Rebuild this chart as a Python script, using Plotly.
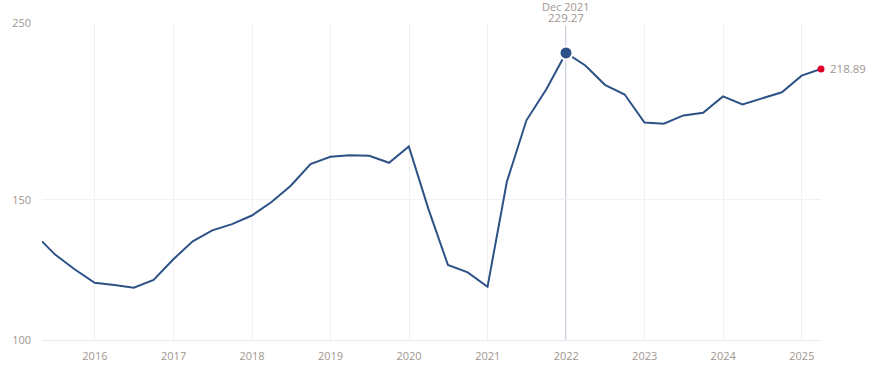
import math
import plotly.graph_objects as go

dates = [
    "2015-04-30", "2015-06-30", "2015-09-30", "2015-12-31",
    "2016-03-31", "2016-06-30", "2016-09-30", "2016-12-31",
    "2017-03-31", "2017-06-30", "2017-09-30", "2017-12-31",
    "2018-03-31", "2018-06-30", "2018-09-30", "2018-12-31",
    "2019-03-31", "2019-06-30", "2019-09-30", "2019-12-31",
    "2020-03-31", "2020-06-30", "2020-09-30", "2020-12-31",
    "2021-03-31", "2021-06-30", "2021-09-30", "2021-12-31",
    "2022-03-31", "2022-06-30", "2022-09-30", "2022-12-31",
    "2023-03-31", "2023-06-30", "2023-09-30", "2023-12-31",
    "2024-03-31", "2024-06-30", "2024-09-30", "2024-12-31",
    "2025-03-31",
]
values = [
    133.0, 128.0, 122.6, 118.0,
    117.2, 116.3, 119.0, 126.3,
    133.0, 137.3, 139.8, 143.3,
    148.9, 156.2, 166.3, 169.8,
    170.6, 170.3, 166.9, 175.0,
    146.1, 124.2, 121.6, 116.6,
    158.0, 188.7, 206.3, 229.27,
    221.1, 209.1, 203.3, 187.5,
    186.9, 191.4, 192.9, 202.2,
    197.6, 201.2, 204.6, 214.7,
    218.89,
]
year_ticks = ["2016-01-01", "2017-01-01", "2018-01-01", "2019-01-01", "2020-01-01",
              "2021-01-01", "2022-01-01", "2023-01-01", "2024-01-01", "2025-01-01"]
year_labels = ["2016", "2017", "2018", "2019", "2020", "2021", "2022", "2023", "2024", "2025"]
y_ticks = [100, 150, 250]
y_labels = ["100", "150", "250"]

highlight_date = "2021-12-31"
highlight_label = "Dec 2021"
highlight_value = 229.27
last_date = dates[-1]
last_value = values[-1]

LINE = "#2c5286"
TEXT = "#a0968f"
GRID = "#f1f1f3"
FONT = "Open Sans"

fig = go.Figure()
fig.add_trace(go.Scatter(x=dates, y=values, mode="lines",
                         line=dict(color=LINE, width=2), hoverinfo="skip",
                         showlegend=False, cliponaxis=False))
fig.add_trace(go.Scatter(x=[highlight_date], y=[highlight_value], mode="markers",
                         marker=dict(size=13, color=LINE, line=dict(color="white", width=2)),
                         hoverinfo="skip", showlegend=False, cliponaxis=False))
fig.add_trace(go.Scatter(x=[last_date], y=[last_value], mode="markers",
                         marker=dict(size=7, color="#e3002a"),
                         hoverinfo="skip", showlegend=False, cliponaxis=False))

fig.add_shape(type="line", xref="x", yref="paper", x0=highlight_date, x1=highlight_date,
              y0=0, y1=1, line=dict(color="#bcc7d6", width=1.5), layer="below")

fig.add_annotation(x=highlight_date, xref="x", yref="paper", y=1.0188, yanchor="middle",
                   text=f"{highlight_value:.2f}", showarrow=False, bgcolor="white", borderpad=0,
                   font=dict(family=FONT, size=11.5, color=TEXT))
fig.add_annotation(x=highlight_date, xref="x", yref="paper", y=1.0533, yanchor="middle",
                   text=highlight_label, showarrow=False,
                   font=dict(family=FONT, size=11, color=TEXT))
fig.add_annotation(x=last_date, y=math.log10(last_value), xref="x", yref="y",
                   xanchor="left", yanchor="middle", xshift=7,
                   text=f"{last_value:.2f}", showarrow=False,
                   font=dict(family=FONT, size=11.5, color=TEXT))

fig.update_layout(
    width=875, height=375,
    margin=dict(l=41, r=54, t=23, b=32),
    paper_bgcolor="white", plot_bgcolor="white",
    font=dict(family=FONT, size=11, color=TEXT),
    hovermode=False,
)
fig.update_xaxes(type="date", range=[dates[0], dates[-1]],
                 tickvals=year_ticks, ticktext=year_labels,
                 showgrid=True, gridcolor=GRID, gridwidth=1,
                 showline=True, linecolor="#e6e9ef", linewidth=1,
                 ticks="", ticklabelstandoff=6, zeroline=False,
                 tickfont=dict(family=FONT, size=11, color=TEXT))
fig.update_yaxes(type="log", range=[2, math.log10(250)],
                 tickvals=y_ticks, ticktext=y_labels,
                 showgrid=True, gridcolor=GRID, gridwidth=1,
                 showline=False, ticks="", ticklabelstandoff=10, zeroline=False,
                 tickfont=dict(family=FONT, size=11, color=TEXT))

fig.write_html("out.html", config={"displayModeBar": False, "staticPlot": True},
               post_script="document.body.style.margin='0';document.body.style.overflow='hidden';")
